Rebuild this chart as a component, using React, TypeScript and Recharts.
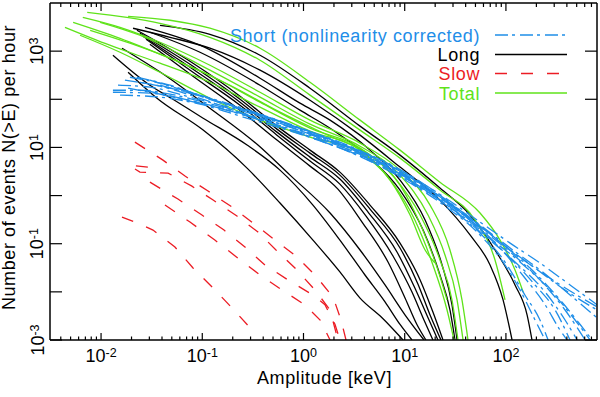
import React from "react";
import { LineChart, Line, XAxis, YAxis } from "recharts";

const FONT = "'Liberation Sans', Arial, Helvetica, sans-serif";
const BLUE = "#1f8ee8";
const GREEN = "#5fe31a";
const RED = "#ec1c24";
const BLACK = "#000000";

// ---- Total (green) curves: amplitude [keV] and N(>E) per hour ----
const TOTAL_E: number[][] = [
  [0.0185, 0.048, 0.119, 0.372, 1.16, 3.62, 8.99, 22.3, 55.5, 87.5, 123, 148],
  [0.0073, 0.018, 0.0382, 0.119, 0.372, 1.16, 3.62, 8.99, 22.3, 49.5, 78, 98],
  [0.0066, 0.0154, 0.0382, 0.119, 0.372, 1.16, 3.62, 8.99, 17.8, 28, 36.8, 42.2],
  [0.0098, 0.0242, 0.119, 0.372, 1.16, 3.62, 8.99, 17, 25, 32.9, 37.7],
  [0.0053, 0.0154, 0.048, 0.119, 0.372, 1.16, 3.62, 8.02, 14.2, 22.3, 29.3, 33.6],
  [0.0044, 0.0122, 0.0382, 0.119, 0.372, 1.16, 3.62, 7.49, 12.6, 19, 26.2, 30.7],
  [0.0062, 0.0154, 0.0382, 0.119, 0.372, 1.16, 3.62, 7.16, 11.3, 15.9, 19.9],
  [0.0078, 0.0193, 0.0602, 0.188, 0.586, 1.83, 4.54, 8.99, 14.8, 21.3, 26.2],
];
const TOTAL_N: number[][] = [
  [5300, 4380, 2990, 1150, 226, 36.9, 8.79, 1.9, 0.434, 0.119, 0.0285, 0.0099],
  [6410, 5050, 3790, 1940, 648, 122, 22.9, 6.0, 1.3, 0.31, 0.0459, 0.0068],
  [5050, 3130, 1530, 510, 140, 36.9, 12.3, 3.38, 0.635, 0.074, 0.0068, 0.001],
  [3980, 2140, 402, 111, 30.4, 10.6, 2.66, 0.394, 0.0583, 0.0068, 0.001],
  [3980, 1850, 712, 316, 87.1, 25.1, 9.67, 2.31, 0.394, 0.0459, 0.0068, 0.001],
  [3130, 1330, 561, 226, 68.6, 21.8, 8.79, 1.9, 0.31, 0.0361, 0.0042, 0.001],
  [2140, 948, 365, 105, 36.9, 16.4, 7.62, 2.1, 0.394, 0.074, 0.0398],
  [2710, 1460, 589, 196, 54, 17.1, 6.92, 1.65, 0.211, 0.0285, 0.0068],
];

// ---- Long (black) curves ----
const LONG_E: number[][] = [
  [0.0382, 0.119, 0.372, 1.16, 3.62, 8.99, 22.3, 44.2, 78, 123, 162, 181],
  [0.0207, 0.048, 0.119, 0.372, 1.16, 3.62, 8.99, 22.3, 44.2, 69.7, 93.7, 115],
  [0.0272, 0.0949, 0.372, 0.923, 1.83, 4.54, 8.99, 15.9, 23.4, 29.3, 32.9],
  [0.0304, 0.0949, 0.372, 0.923, 1.83, 4.54, 8.99, 15.2, 22.3, 28, 31.4],
  [0.0226, 0.081, 0.236, 0.547, 1.16, 2.29, 4.54, 8.99, 14.2, 19, 23.9],
  [0.0242, 0.081, 0.236, 0.547, 1.16, 2.29, 4.54, 8.99, 13.5, 17.8, 22.8],
  [0.0259, 0.081, 0.236, 0.547, 1.16, 2.29, 4.34, 8.39, 12.6, 17, 21.3],
  [0.0278, 0.081, 0.236, 0.547, 1.16, 2.29, 4.15, 7.66, 11.8, 15.5, 19],
  [0.0304, 0.081, 0.236, 0.547, 1.16, 2.19, 3.79, 6.84, 10.1, 13.2, 16.2],
  [0.0185, 0.0357, 0.102, 0.277, 0.586, 1.24, 2.29, 3.62, 5.97, 8.59, 9.62],
  [0.0131, 0.0304, 0.0513, 0.102, 0.277, 0.586, 1.24, 2.29, 4.05, 6.39, 8.99, 11.8],
  [0.0161, 0.0428, 0.119, 0.355, 0.736, 1.83, 3.62, 6.39, 10.1, 15.5],
];
const LONG_N: number[][] = [
  [3440, 2240, 822, 170, 27.7, 6.92, 1.43, 0.394, 0.074, 0.0139, 0.0033, 0.001],
  [2990, 1940, 1150, 402, 95.8, 18, 3.9, 0.806, 0.152, 0.0361, 0.0068, 0.001],
  [3130, 1330, 274, 83, 36.9, 8.79, 2.1, 0.31, 0.0361, 0.0054, 0.001],
  [2470, 948, 196, 59.4, 25.1, 6.0, 1.3, 0.192, 0.0224, 0.0042, 0.001],
  [2710, 561, 116, 27.7, 8.79, 3.07, 0.635, 0.103, 0.0177, 0.0038, 0.001],
  [2350, 486, 100, 24, 7.62, 2.66, 0.524, 0.0814, 0.0146, 0.0033, 0.001],
  [2040, 421, 87.1, 20.8, 6.29, 2.2, 0.455, 0.0672, 0.012, 0.0029, 0.001],
  [1770, 365, 75.5, 18, 5.2, 1.73, 0.375, 0.0556, 0.0099, 0.0026, 0.001],
  [1390, 301, 59.4, 14.2, 4.09, 1.36, 0.282, 0.0417, 0.0074, 0.0021, 0.001],
  [365, 105, 22.9, 3.72, 0.699, 0.119, 0.0259, 0.0074, 0.0029, 0.0013, 0.001],
  [822, 196, 100, 40.5, 11.2, 3.38, 0.635, 0.119, 0.0224, 0.0062, 0.0021, 0.001],
  [1150, 316, 65.4, 11.2, 2.66, 0.434, 0.074, 0.0139, 0.0033, 0.001],
];

// ---- Short, nonlinearity corrected (blue) curves ----
const SHORT_E: number[][] = [
  [0.0131, 0.0242, 0.048, 0.0949, 0.296, 0.923, 2.88, 8.99, 28, 55.5, 110, 217, 430, 795],
  [0.0147, 0.0304, 0.0756, 0.296, 0.923, 2.88, 8.99, 28, 55.5, 110, 217, 430, 795],
  [0.0172, 0.0382, 0.0949, 0.296, 0.923, 2.88, 8.99, 28, 55.5, 110, 194, 306, 430],
  [0.0193, 0.0382, 0.0949, 0.296, 0.923, 2.88, 8.99, 28, 55.5, 110, 217, 384, 606],
  [0.0226, 0.048, 0.119, 0.372, 1.16, 3.62, 11.3, 28, 55.5, 98, 154, 217, 261],
  [0.0131, 0.0304, 0.0756, 0.236, 0.736, 2.29, 7.16, 22.3, 55.5, 110, 244, 541, 795],
  [0.0154, 0.0382, 0.0949, 0.296, 0.923, 2.88, 8.99, 25, 55.5, 98, 138, 194, 244],
  [0.0242, 0.0602, 0.15, 0.467, 1.46, 4.54, 14.2, 35.2, 69.7, 138, 273, 482, 679],
  [0.0304, 0.0756, 0.188, 0.586, 1.83, 5.7, 17.8, 44.2, 87.5, 173, 343, 541, 710],
  [0.0185, 0.048, 0.119, 0.372, 1.16, 3.62, 11.3, 31.4, 62.2, 123, 244, 384, 505],
  [0.0382, 0.0949, 0.236, 0.736, 2.29, 7.16, 22.3, 49.5, 98, 194, 384, 795],
  [0.0272, 0.0675, 0.188, 0.586, 1.83, 5.7, 17.8, 44.2, 87.5, 154, 244, 343, 402],
];
const SHORT_N: number[][] = [
  [154, 154, 128, 91.4, 46.8, 22.9, 9.67, 3.07, 0.699, 0.244, 0.0814, 0.0285, 0.0086, 0.0029],
  [196, 178, 111, 51.5, 25.1, 10.6, 3.38, 0.77, 0.282, 0.103, 0.0398, 0.0139, 0.0054],
  [249, 187, 105, 44.6, 20.8, 8.79, 2.66, 0.577, 0.192, 0.0505, 0.0139, 0.0042, 0.001],
  [287, 216, 122, 54, 25.1, 10.1, 3.2, 0.666, 0.211, 0.0672, 0.0177, 0.0042, 0.001],
  [287, 196, 100, 44.6, 18.9, 7.62, 2.1, 0.55, 0.166, 0.0417, 0.0086, 0.0026, 0.001],
  [140, 134, 91.4, 51.5, 26.4, 10.6, 3.72, 0.887, 0.233, 0.074, 0.0224, 0.0078, 0.0049],
  [122, 111, 79.1, 38.7, 18.9, 7.99, 2.42, 0.605, 0.152, 0.0361, 0.0109, 0.0026, 0.001],
  [226, 154, 87.1, 40.5, 16.4, 6.29, 1.65, 0.455, 0.131, 0.0417, 0.0109, 0.0026, 0.001],
  [249, 140, 79.1, 35.2, 14.2, 5.45, 1.3, 0.341, 0.108, 0.0313, 0.0068, 0.0021, 0.001],
  [170, 116, 75.5, 36.9, 16.4, 6.6, 1.9, 0.476, 0.145, 0.0417, 0.0099, 0.0026, 0.001],
  [196, 116, 65.4, 30.4, 12.3, 4.5, 1.02, 0.282, 0.0896, 0.0313, 0.0109, 0.0042],
  [154, 100, 56.6, 27.7, 11.7, 4.5, 1.12, 0.31, 0.0814, 0.0194, 0.0054, 0.0016, 0.001],
];

// ---- Slow (red) curves ----
const SLOW_E: number[][] = [
  [0.0216, 0.0409, 0.0675, 0.114, 0.197, 0.317, 0.523, 0.843, 1.3, 1.96, 2.35, 2.63],
  [0.029, 0.0189, 0.0242, 0.046, 0.079, 0.128, 0.22, 0.355, 0.535, 0.824, 1.3, 1.83, 2.19],
  [0.0304, 0.0575, 0.0993, 0.164, 0.264, 0.417, 0.703, 1.24, 1.63, 2.05, 2.29],
  [0.0161, 0.0242, 0.0326, 0.0537, 0.081, 0.125, 0.192, 0.289, 0.332],
  [0.0428, 0.0756, 0.133, 0.224, 0.372, 0.614, 1.03, 1.46, 1.83],
];
const SLOW_N: number[][] = [
  [12.9, 5.45, 2.54, 1.24, 0.577, 0.269, 0.119, 0.0556, 0.0224, 0.0078, 0.0026, 0.001],
  [3.9, 4.29, 3.07, 2.93, 1.57, 0.806, 0.375, 0.175, 0.074, 0.0313, 0.0109, 0.0042, 0.001],
  [1.9, 0.846, 0.394, 0.192, 0.0854, 0.0361, 0.0177, 0.0086, 0.0054, 0.0021, 0.001],
  [0.358, 0.256, 0.192, 0.0854, 0.0313, 0.0126, 0.0049, 0.0019, 0.0013],
  [0.635, 0.282, 0.119, 0.0505, 0.0224, 0.0109, 0.0054, 0.0026, 0.001],
];

// ---- axes ----
const X_DOMAIN: [number, number] = [0.00313, 794];
const Y_DOMAIN: [number, number] = [0.001, 10000];
const X_DECADES = [0.001, 0.01, 0.1, 1, 10, 100];
const X_MULTIPLES = [1, 2, 3, 4, 5, 6, 7, 8, 9];
const Y_TICKS = [0.001, 0.01, 0.1, 1, 10, 100, 1000];
const Y_LABELLED = [-3, -1, 1, 3];

const X_TICKS: number[] = [];
X_DECADES.forEach((d) =>
  X_MULTIPLES.forEach((m) => {
    const v = +(d * m).toPrecision(6);
    if (v >= X_DOMAIN[0] && v <= X_DOMAIN[1]) X_TICKS.push(v);
  })
);

const isDecade = (v: number) => {
  const l = Math.log10(v);
  return Math.abs(l - Math.round(l)) < 1e-6;
};

const toPts = (es: number[], ns: number[]) => es.map((e, i) => ({ e, n: ns[i] }));

const BottomTick = (props: any) => {
  const { x, y, payload } = props;
  const v = payload.value;
  const major = isDecade(v);
  const exp = Math.round(Math.log10(v));
  return (
    <g>
      <line x1={x} y1={y} x2={x} y2={y - (major ? 7 : 3.5)} stroke="#000" strokeWidth={1.2} />
      {major && (
        <text x={x} y={y + 22} textAnchor="middle" fontFamily={FONT} fontSize={18} fill="#000">
          10
          <tspan fontSize={12.5} dy={-5}>
            {exp}
          </tspan>
        </text>
      )}
    </g>
  );
};

const TopTick = (props: any) => {
  const { x, y, payload } = props;
  const major = isDecade(payload.value);
  return <line x1={x} y1={y} x2={x} y2={y + (major ? 8 : 4)} stroke="#000" strokeWidth={1.2} />;
};

const LeftTick = (props: any) => {
  const { x, y, payload } = props;
  const exp = Math.round(Math.log10(payload.value));
  const bx = 43.5;
  return (
    <g>
      <line x1={x} y1={y} x2={x + 12} y2={y} stroke="#000" strokeWidth={1.2} />
      {Y_LABELLED.includes(exp) && (
        <text
          x={bx}
          y={y}
          transform={`rotate(-90, ${bx}, ${y})`}
          textAnchor="middle"
          fontFamily={FONT}
          fontSize={18}
          fill="#000"
        >
          10
          <tspan fontSize={12.5} dy={-5}>
            {exp}
          </tspan>
        </text>
      )}
    </g>
  );
};

const RightTick = (props: any) => {
  const { x, y } = props;
  return <line x1={x} y1={y} x2={x - 12} y2={y} stroke="#000" strokeWidth={1.2} />;
};

const LEGEND = [
  { label: "Short (nonlinearity corrected)", color: BLUE, dash: "13 4 3 5", y: 35 },
  { label: "Long", color: BLACK, dash: undefined, y: 54.5 },
  { label: "Slow", color: RED, dash: "12 14", y: 73.5 },
  { label: "Total", color: GREEN, dash: undefined, y: 93 },
];

export default function App() {
  const common = {
    xAxisId: "b",
    yAxisId: "l",
    dataKey: "n",
    dot: false,
    activeDot: false,
    isAnimationActive: false,
    strokeWidth: 1.3,
  } as const;
  return (
    <div style={{ position: "absolute", left: 0, top: 0, width: 600, height: 397, background: "#fff" }}>
      <LineChart width={600} height={397} margin={{ top: 2, right: 2, bottom: 56, left: 0 }}>
        <XAxis
          xAxisId="b"
          dataKey="e"
          type="number"
          scale="log"
          domain={X_DOMAIN}
          allowDataOverflow
          ticks={X_TICKS}
          interval={0}
          tick={BottomTick}
          tickLine={false}
          tickSize={0}
          tickMargin={0}
          height={1}
          axisLine={{ stroke: "#000", strokeWidth: 1.5 }}
        />
        <XAxis
          xAxisId="t"
          orientation="top"
          dataKey="e"
          type="number"
          scale="log"
          domain={X_DOMAIN}
          allowDataOverflow
          ticks={X_TICKS}
          interval={0}
          tick={TopTick}
          tickLine={false}
          tickSize={0}
          tickMargin={0}
          height={1}
          axisLine={{ stroke: "#000", strokeWidth: 1.5 }}
        />
        <YAxis
          yAxisId="l"
          type="number"
          scale="log"
          domain={Y_DOMAIN}
          allowDataOverflow
          ticks={Y_TICKS}
          interval={0}
          tick={LeftTick}
          tickLine={false}
          tickSize={0}
          tickMargin={0}
          width={50}
          axisLine={{ stroke: "#000", strokeWidth: 1.5 }}
        />
        <YAxis
          yAxisId="r"
          orientation="right"
          type="number"
          scale="log"
          domain={Y_DOMAIN}
          allowDataOverflow
          ticks={Y_TICKS}
          interval={0}
          tick={RightTick}
          tickLine={false}
          tickSize={0}
          tickMargin={0}
          width={1}
          axisLine={{ stroke: "#000", strokeWidth: 1.5 }}
        />
        {LONG_E.map((es, i) => (
          <Line key={`l${i}`} {...common} data={toPts(es, LONG_N[i])} type="monotone" stroke={BLACK} />
        ))}
        {TOTAL_E.map((es, i) => (
          <Line key={`t${i}`} {...common} data={toPts(es, TOTAL_N[i])} type="monotone" stroke={GREEN} />
        ))}
        {SHORT_E.map((es, i) => (
          <Line
            key={`s${i}`}
            {...common}
            data={toPts(es, SHORT_N[i])}
            type="monotone"
            stroke={BLUE}
            strokeDasharray="13 4 3 5"
          />
        ))}
        {SLOW_E.map((es, i) => (
          <Line
            key={`r${i}`}
            {...common}
            data={toPts(es, SLOW_N[i])}
            type="linear"
            stroke={RED}
            strokeDasharray="12 14"
          />
        ))}
      </LineChart>
      <svg
        width={600}
        height={397}
        style={{ position: "absolute", left: 0, top: 0, pointerEvents: "none" }}
      >
        {LEGEND.map((r) => (
          <g key={r.label}>
            <text
              x={480}
              y={r.y + 6.5}
              textAnchor="end"
              fontFamily={FONT}
              fontSize={18}
              letterSpacing={0.6}
              fill={r.color}
            >
              {r.label}
            </text>
            <line
              x1={495}
              y1={r.y}
              x2={567}
              y2={r.y}
              stroke={r.color}
              strokeWidth={1.5}
              strokeDasharray={r.dash}
            />
          </g>
        ))}
        <text
          x={324.5}
          y={384}
          textAnchor="middle"
          fontFamily={FONT}
          fontSize={18}
          letterSpacing={0.6}
          fill="#000"
        >
          Amplitude [keV]
        </text>
        <text
          x={15}
          y={167.5}
          transform="rotate(-90, 15, 167.5)"
          textAnchor="middle"
          fontFamily={FONT}
          fontSize={18}
          letterSpacing={0.6}
          fill="#000"
        >
          Number of events N(&gt;E) per hour
        </text>
      </svg>
    </div>
  );
}
